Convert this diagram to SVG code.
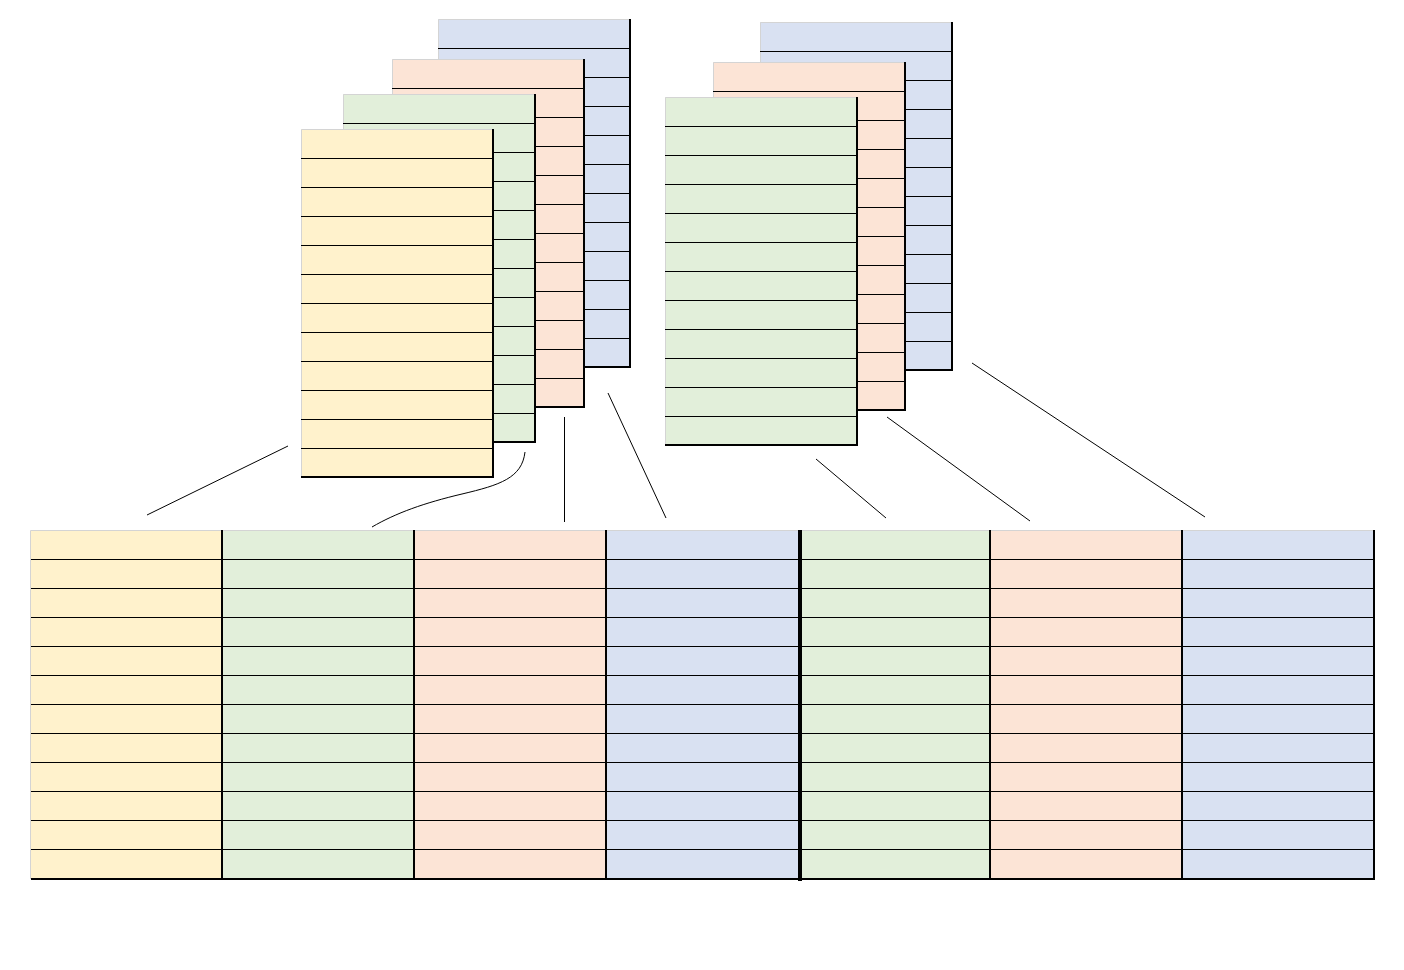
<svg xmlns="http://www.w3.org/2000/svg" xmlns:xlink="http://www.w3.org/1999/xlink" width="1404" height="970" viewBox="0 0 1404 970">
<style>
.yellow{fill:#FFF2CC}
.green{fill:#E2EFDA}
.red{fill:#FCE4D6}
.blue{fill:#D9E1F2}
.edge{fill:none;stroke:#D4D4D4;stroke-width:1}
.row{fill:none;stroke:#000;stroke-width:1}
.border{fill:none;stroke:#000;stroke-width:2}
.divider{fill:none;stroke:#000;stroke-width:4}
.conn{fill:none;stroke:#000;stroke-width:1}
</style>
<defs>
<g id="sheet">
<rect x="0" y="0" width="192" height="348" stroke="none"/>
<path d="M0.5 348 V0.5 H192" fill="none" stroke="#D4D4D4" stroke-width="1"/>
<path d="M0 29.5 H192 M0 58.5 H192 M0 87.5 H192 M0 116.5 H192 M0 145.5 H192 M0 174.5 H192 M0 203.5 H192 M0 232.5 H192 M0 261.5 H192 M0 290.5 H192 M0 319.5 H192" fill="none" stroke="#000" stroke-width="1"/>
<path d="M192 0 V349 M0 348 H193" fill="none" stroke="#000" stroke-width="2"/>
</g>
</defs>
<rect width="1404" height="970" fill="#fff"/>

<g id="stack-left">
<g id="sheet-left-blue"><use xlink:href="#sheet" href="#sheet" x="438" y="19" class="blue"/></g>
<g id="sheet-left-red"><use xlink:href="#sheet" href="#sheet" x="392" y="59" class="red"/></g>
<g id="sheet-left-green"><use xlink:href="#sheet" href="#sheet" x="343" y="94" class="green"/></g>
<g id="sheet-left-yellow"><use xlink:href="#sheet" href="#sheet" x="301" y="129" class="yellow"/></g>
</g>

<g id="stack-right">
<g id="sheet-right-blue"><use xlink:href="#sheet" href="#sheet" x="760" y="22" class="blue"/></g>
<g id="sheet-right-red"><use xlink:href="#sheet" href="#sheet" x="713" y="62" class="red"/></g>
<g id="sheet-right-green"><use xlink:href="#sheet" href="#sheet" x="665" y="97" class="green"/></g>
</g>

<g id="table">
<rect class="yellow" x="31" y="530" width="191" height="349"/>
<rect class="green" x="222" y="530" width="192" height="349"/>
<rect class="red" x="414" y="530" width="192" height="349"/>
<rect class="blue" x="606" y="530" width="194" height="349"/>
<rect class="green" x="800" y="530" width="190" height="349"/>
<rect class="red" x="990" y="530" width="192" height="349"/>
<rect class="blue" x="1182" y="530" width="192" height="349"/>
<path class="edge" d="M30.5 879 V530.5 H1374"/>
<path class="row" d="M31 559.5 H1374 M31 588.5 H1374 M31 617.5 H1374 M31 646.5 H1374 M31 675.5 H1374 M31 704.5 H1374 M31 733.5 H1374 M31 762.5 H1374 M31 791.5 H1374 M31 820.5 H1374 M31 849.5 H1374"/>
<path class="border" d="M222 530 V879 M414 530 V879 M606 530 V879 M990 530 V879 M1182 530 V879 M1374 530 V880 M31 879 H1375"/>
<path class="divider" d="M800 530 V881"/>
</g>

<g id="connectors">
<path class="conn" d="M288 446 L147 515"/>
<path class="conn" d="M525 452 C522 478 500 485 462 494 C424 503 396 513 372 527"/>
<path class="conn" d="M564.5 417 V522"/>
<path class="conn" d="M608 393 L666 518"/>
<path class="conn" d="M816 459 L886 518"/>
<path class="conn" d="M887 417 L1030 521"/>
<path class="conn" d="M972 363 L1205 517"/>
</g>
</svg>
